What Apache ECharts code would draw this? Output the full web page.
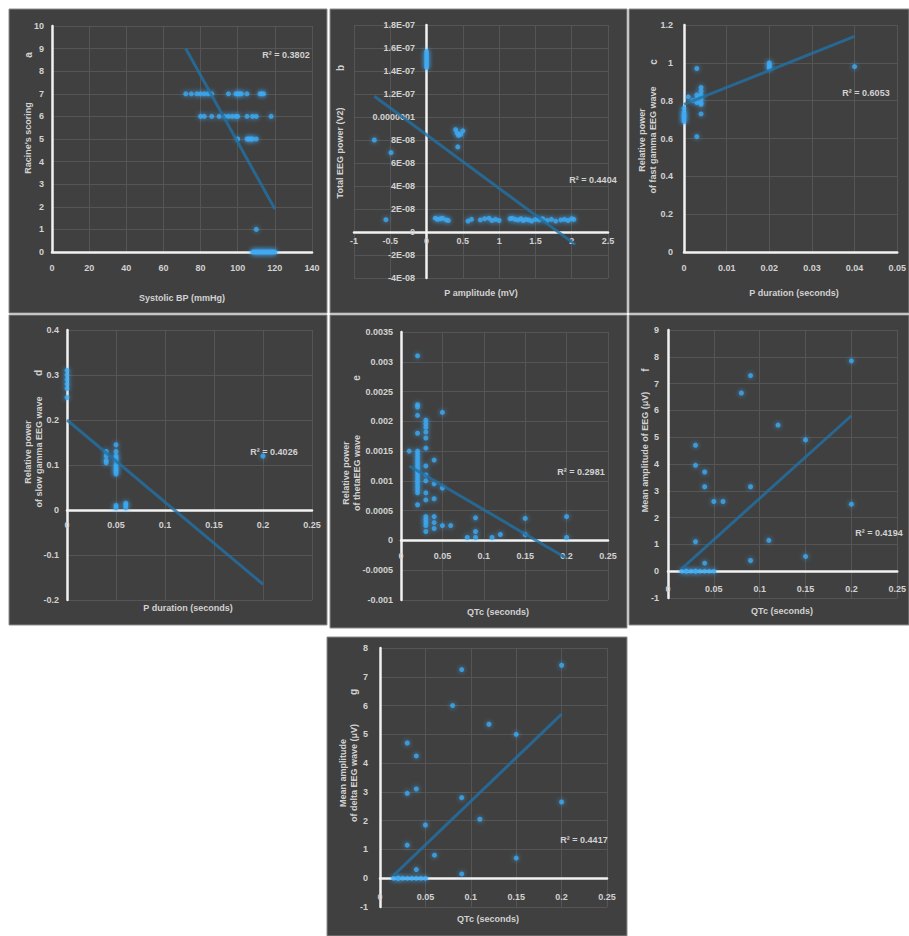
<!DOCTYPE html>
<html><head><meta charset="utf-8">
<script src="https://cdn.jsdelivr.net/npm/echarts@6/dist/echarts.min.js"></script>
<style>html,body{margin:0;padding:0;background:#fff}#c{width:909px;height:936px}</style>
</head><body><div id="c"></div><script>
// ---- Panel a ----
const aBP = [72,75,78,80,82,84,86,95,99,100,101,102,105,112,113,114, 80,82,86,90,93,95,97,99,100,105,108,110,118, 100,105,106,107,108,110, 110, 108,109,110,111,112,113,114,115,116,117,118,119,120];
const aRacine = [7,7,7,7,7,7,7,7,7,7,7,7,7,7,7,7, 6,6,6,6,6,6,6,6,6,6,6,6,6, 5,5,5,5,5,5, 1, 0,0,0,0,0,0,0,0,0,0,0,0,0];
const aTrendX = [72,120], aTrendY = [9.0,1.9];
// ---- Panel b ----
const bAmp = [0,0,0,0,0,0,0,0, -0.72,-0.49,-0.56, 0.43,0.4,0.42,0.44,0.47,0.5,
  0.12,0.15,0.19,0.22,0.27,0.3, 0.57,0.62, 0.74,0.8,0.86,0.9,0.95,1.0,
  1.15,1.18,1.22,1.26,1.3,1.33,1.37,1.41,1.45,1.5,1.55,1.6,1.66,1.72,1.78,1.85,1.9,1.95,2.0,2.03];
const bPower = [1.43e-7,1.45e-7,1.47e-7,1.49e-7,1.51e-7,1.53e-7,1.55e-7,1.57e-7, 8.0e-8,6.9e-8,1.07e-8, 7.4e-8,8.9e-8,8.6e-8,8.4e-8,8.5e-8,8.8e-8,
  1.2e-8,1.1e-8,1.15e-8,1.2e-8,1.05e-8,1.0e-8, 0.95e-8,1.1e-8, 1.05e-8,1.15e-8,1.2e-8,1.0e-8,1.1e-8,1.0e-8,
  1.15e-8,1.2e-8,1.1e-8,1.05e-8,1.15e-8,1.0e-8,1.1e-8,1.05e-8,0.95e-8,1.1e-8,1.05e-8,1.15e-8,1.0e-8,1.1e-8,0.95e-8,1.05e-8,1.1e-8,1.0e-8,1.15e-8,1.1e-8];
const bTrendX = [-0.72,2.05], bTrendY = [1.18e-7,-1.1e-8];
const bYLabels = ["-4E-08","-2E-08","0","2E-08","4E-08","6E-08","8E-08","0.0000001","1.2E-07","1.4E-07","1.6E-07","1.8E-07"];
// ---- Panel c ----
const cDur = [0,0,0,0,0,0,0, 0.001,0.002, 0.003,0.003,0.003,0.003,0.003, 0.004,0.004,0.004,0.004,0.004,0.004,0.004, 0.02,0.02,0.02,0.02, 0.04];
const cGamma = [0.69,0.7,0.71,0.72,0.73,0.74,0.76, 0.82,0.8, 0.97,0.83,0.81,0.79,0.61, 0.87,0.85,0.83,0.81,0.79,0.78,0.73, 0.97,0.98,0.99,1.0, 0.98];
const cTrendX = [0,0.04], cTrendY = [0.78,1.14];
// ---- Panel d ----
const dDur = [0,0,0,0,0,0, 0.04,0.04,0.04,0.04, 0.05,0.05,0.05,0.05,0.05,0.05,0.05,0.05,0.05,0.05,0.05,0.05, 0.06,0.06,0.06, 0.2];
const dGamma = [0.25,0.27,0.28,0.29,0.3,0.31, 0.13,0.12,0.11,0.105, 0.145,0.13,0.12,0.115,0.11,0.1,0.095,0.09,0.085,0.08,0.01,0.005, 0.015,0.01,0.005, 0.12];
const dTrendX = [0,0.2], dTrendY = [0.2,-0.165];
// ---- Panel e ----
const eQTc = [0.01,
  0.02,0.02,0.02,0.02,0.02,0.02,0.02,0.02,0.02,0.02,0.02,0.02,0.02,0.02,0.02,0.02,0.02,0.02,0.02,0.02,0.02,
  0.03,0.03,0.03,0.03,0.03,0.03,0.03,0.03,0.03,0.03,0.03,0.03,0.03,0.03,0.03,0.03,
  0.04,0.04,0.04,0.04,0.04,0.04, 0.05,0.05,0.05, 0.06,0.08,0.09,0.09,0.09,0.11,0.12,0.15,0.15,0.2,0.2];
const eTheta = [0.0015,
  0.0031,0.00228,0.00224,0.0021,0.0018,0.0015,0.00145,0.0014,0.00135,0.0013,0.00125,0.0012,0.00115,0.0011,0.00105,0.001,0.00095,0.0009,0.00085,0.0008,0.0006,
  0.00202,0.00196,0.0019,0.00182,0.00172,0.00155,0.00125,0.0011,0.001,0.0008,0.00068,0.0004,0.00035,0.0003,0.00025,0.00015,
  0.00135,0.00095,0.0007,0.0004,0.0003,0.0002, 0.00215,0.00088,0.00025, 0.00025,0.00005,0.00038,0.00015,0.00005,0.00005,0.0001,0.00037,0.0001,0.0004,0.00005];
const eTrendX = [0.01,0.2], eTrendY = [0.00125,-0.0003];
// ---- Panel f ----
const fQTc = [0.2,0.09,0.08,0.12,0.15,0.03,0.03,0.04,0.04,0.09,0.05,0.06,0.2,0.03,0.11,0.15,0.09,0.04, 0.015,0.02,0.02,0.025,0.03,0.03,0.035,0.04,0.045,0.05];
const fAmp = [7.85,7.3,6.65,5.45,4.9,4.7,3.95,3.7,3.15,3.15,2.6,2.6,2.5,1.1,1.15,0.55,0.4,0.3, 0,0,0,0,0,0,0,0,0,0];
const fTrendX = [0.015,0.2], fTrendY = [0.1,5.8];
// ---- Panel g ----
const gQTc = [0.2,0.09,0.08,0.12,0.15,0.03,0.04,0.04,0.03,0.09,0.2,0.11,0.05,0.03,0.06,0.15,0.04,0.09, 0.015,0.02,0.02,0.025,0.03,0.035,0.04,0.045,0.05];
const gAmp = [7.4,7.25,6.0,5.35,5.0,4.7,4.25,3.1,2.95,2.8,2.65,2.05,1.85,1.15,0.8,0.7,0.3,0.15, 0,0,0,0,0,0,0,0,0];
const gTrendX = [0.015,0.2], gTrendY = [0.1,5.7];

const FONT = "'Liberation Sans Narrow','Liberation Sans',Arial,sans-serif";
const TXT = '#d2d2d2';
const PANEL = '#404040';

const zip = (xs, ys) => xs.map((x, i) => [x, ys[i]]);

// m: label offsets from the grid edge so labels sit next to the zero-crossing axes
const panels = [
  {grid:{left:52,top:26,width:260,height:226}, x:{min:0,max:140,interval:20,m:11}, y:{min:0,max:10,interval:1,m:8}, xs:aBP, ys:aRacine, tx:aTrendX, ty:aTrendY},
  {grid:{left:354,top:25,width:254,height:253}, x:{min:-1,max:2.5,interval:0.5,m:-42}, y:{min:-4e-8,max:1.8e-7,interval:2e-8,m:-61,fmt:v=>bYLabels[Math.round((v+4e-8)/2e-8)]}, xs:bAmp, ys:bPower, tx:bTrendX, ty:bTrendY},
  {grid:{left:684,top:25,width:220,height:227}, x:{min:0,max:0.05,interval:0.01,m:11}, y:{min:0,max:1.2,interval:0.2,m:11}, xs:cDur, ys:cGamma, tx:cTrendX, ty:cTrendY},
  {grid:{left:67,top:330,width:245,height:270}, x:{min:0,max:0.25,interval:0.05,m:-80}, y:{min:-0.2,max:0.4,interval:0.1,m:8}, xs:dDur, ys:dGamma, tx:dTrendX, ty:dTrendY},
  {grid:{left:401,top:332,width:207,height:268}, x:{min:0,max:0.25,interval:0.05,m:-49}, y:{min:-0.001,max:0.0035,interval:0.0005,m:8}, xs:eQTc, ys:eTheta, tx:eTrendX, ty:eTrendY},
  {grid:{left:668,top:330,width:236,height:268}, x:{min:0,max:0.25,interval:0.05,m:-14}, y:{min:-1,max:9,interval:1,m:9}, xs:fQTc, ys:fAmp, tx:fTrendX, ty:fTrendY},
  {grid:{left:380,top:648,width:227,height:259}, x:{min:0,max:0.25,interval:0.05,m:-15}, y:{min:-1,max:8,interval:1,m:12}, xs:gQTc, ys:gAmp, tx:gTrendX, ty:gTrendY}
];

const grids = [], xAxes = [], yAxes = [], series = [];
panels.forEach((p, i) => {
  grids.push(Object.assign({containLabel:false, show:false}, p.grid));
  const mk = (c) => {
    const ax = {
      type:'value', gridIndex:i, min:c.min, max:c.max, interval:c.interval,
      axisLine:{show:true, onZero:true, lineStyle:{color:'#f2f2f2', width:2.5}},
      axisTick:{show:false},
      splitLine:{show:true, lineStyle:{color:'#555555', width:1}},
      axisLabel:{color:TXT, fontFamily:FONT, fontSize:9, fontWeight:'bold', margin:c.m, showMinLabel:true, showMaxLabel:true, hideOverlap:false}
    };
    if (c.fmt) ax.axisLabel.formatter = c.fmt;
    return ax;
  };
  xAxes.push(mk(p.x)); yAxes.push(mk(p.y));
  series.push({
    type:'scatter', xAxisIndex:i, yAxisIndex:i, data:zip(p.xs, p.ys), symbolSize:5, z:3,
    itemStyle:{color:'#3aaaf2', shadowBlur:5, shadowColor:'rgba(70,175,255,0.9)'}
  });
  series.push({
    type:'line', xAxisIndex:i, yAxisIndex:i, data:zip(p.tx, p.ty), symbol:'none', z:4,
    lineStyle:{color:'rgba(32,112,165,0.8)', width:3}
  });
});

const rects = [
  [9,9,318,304],[330,9,297,304],[629,9,280,304],
  [9,315,318,310],[330,315,297,313],[629,315,280,310],
  [327,637,300,299]
].map(r => ({type:'rect', shape:{x:r[0],y:r[1],width:r[2],height:r[3]}, style:{fill:PANEL, stroke:'#8c8c8c', lineWidth:1}, z:-10, silent:true}));

function txt(s, x, y, rot, size) {
  return {type:'text', x:x, y:y, rotation:rot ? Math.PI/2 : 0, z:10, silent:true,
    style:{text:s, fill:TXT, font:'bold ' + (size||9) + 'px ' + FONT, align:'center', verticalAlign:'middle', textAlign:'center', textVerticalAlign:'middle', lineHeight:11}};
}

const texts = [
  txt("Racine's scoring", 28, 138, true), txt('a', 28, 55, true, 10), txt('Systolic BP (mmHg)', 182, 298), txt('R\u00B2 = 0.3802', 286, 55),
  txt('Total EEG power (V2)', 340, 153, true), txt('b', 340, 68, true, 10), txt('P amplitude (mV)', 481, 293), txt('R\u00B2 = 0.4404', 593, 180),
  txt('Relative power\nof fast gamma EEG wave', 647, 140, true), txt('c', 653, 62, true, 10), txt('P duration (seconds)', 794, 293), txt('R\u00B2 = 0.6053', 866, 93),
  txt('Relative power\nof slow gamma EEG wave', 33, 452, true), txt('d', 38, 373, true, 10), txt('P duration (seconds)', 188, 608), txt('R\u00B2 = 0.4026', 274, 452),
  txt('Relative power\nof thetaEEG wave', 351, 473, true), txt('e', 356, 378, true, 10), txt('QTc (seconds)', 498, 612), txt('R\u00B2 = 0.2981', 581, 472),
  txt('Mean amplitude of EEG (\u03BCV)', 645, 452, true), txt('f', 645, 370, true, 10), txt('QTc (seconds)', 782, 611), txt('R\u00B2 = 0.4194', 879, 533),
  txt('Mean amplitude\nof delta EEG wave (\u03BCV)', 348, 773, true), txt('g', 353, 692, true, 10), txt('QTc (seconds)', 488, 919), txt('R\u00B2 = 0.4417', 584, 840)
];

const chart = echarts.init(document.getElementById('c'), null, {renderer:'svg', width:909, height:936});
chart.setOption({
  backgroundColor:'#ffffff',
  animation:false,
  graphic:{elements: rects.concat(texts)},
  grid:grids, xAxis:xAxes, yAxis:yAxes, series:series
});
</script></body></html>
